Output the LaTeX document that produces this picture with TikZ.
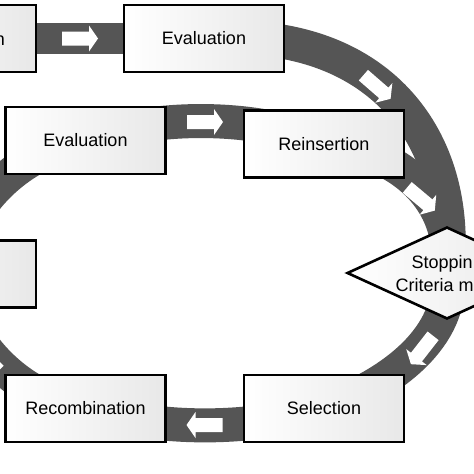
\documentclass[tikz,border=0pt]{standalone}
\usepackage{fontspec}
\setmainfont{Liberation Sans}
\usetikzlibrary{shapes.geometric}
\definecolor{bandc}{RGB}{85,85,85}
\tikzset{
  band/.style={draw=bandc, line width=34pt},
  boxnode/.style={draw=black, line width=2.6pt, left color=white, right color=black!9,
    minimum width=160pt, minimum height=67pt, inner sep=0pt, font=\fontsize{18pt}{22pt}\selectfont},
  decision/.style={diamond, draw=black, line width=2.6pt, left color=white, right color=black!9,
    minimum width=200pt, minimum height=92pt, inner sep=0pt},
  txt/.style={inner sep=0pt, font=\fontsize{18pt}{22pt}\selectfont},
  warr/.pic={\fill[white] (-18,-7) -- (9,-7) -- (9,-13) -- (18,0) -- (9,13) -- (9,7) -- (-18,7) -- cycle;}
}
\begin{document}
\begin{tikzpicture}[x=1pt,y=-1pt]
\useasboundingbox (0,0) rectangle (474,474);
\clip (0,0) rectangle (474,474);
\fill[white] (0,0) rectangle (474,474);
% node positions (coordinates only, drawn later on top)
\path
  (-44,38.5) coordinate (pInit)
  (204,38.5) coordinate (pEval1)
  (85.5,140.5) coordinate (pEval2)
  (324,144) coordinate (pReins)
  (-44,274) coordinate (pMut)
  (85.5,408.5) coordinate (pRecomb)
  (324,408.5) coordinate (pSel)
  (447,273) coordinate (pStop);
% bands (connectors)
\draw[band, line width=31pt] (pInit) -- (pEval1);
\draw[band] (pEval1) .. controls (380,25) and (462,140) .. (pStop);
\draw[band] (pEval2) .. controls (150,114) and (260,114) .. (pReins);
\draw[band] (pReins) .. controls (410,152) and (457,210) .. (pStop);
\draw[band] (pStop) .. controls (455,328) and (404.5,379) .. (pSel);
\draw[band] (pSel) .. controls (250,431) and (160,431) .. (pRecomb);
\draw[band] (pRecomb) .. controls (20,400) and (-40,340) .. (pMut);
\draw[band] (pMut) .. controls (-40,208) and (20,150) .. (pEval2);
% white arrows on the bands
\pic at (80,38.5) {warr};
\pic at (205,122) {warr};
\pic[rotate=-41] at (377,87) {warr};
\pic[rotate=-40] at (421,199) {warr};
\pic[rotate=-128] at (422,350) {warr};
\pic[rotate=180] at (204.5,425) {warr};
\pic[rotate=135] at (-14,358) {warr};
% boxes
\node[boxnode] (init) at (pInit) {};
\node[boxnode] (eval1) at (pEval1) {Evaluation};
\node[boxnode] (eval2) at (pEval2) {Evaluation};
\node[boxnode] (reins) at (pReins) {Reinsertion};
\node[boxnode] (mut) at (pMut) {};
\node[boxnode] (recomb) at (pRecomb) {Recombination};
\node[boxnode] (sel) at (pSel) {Selection};
\node[decision] (stop) at (pStop) {};
% clipped text fragments
\node[txt, anchor=base east] (initT) at (5,45) {n};
\node[txt, anchor=base west] (stopT1) at (411.5,268.5) {Stoppin};
\node[txt, anchor=base west] (stopT2) at (395.5,291) {Criteria m};
\end{tikzpicture}
\end{document}
